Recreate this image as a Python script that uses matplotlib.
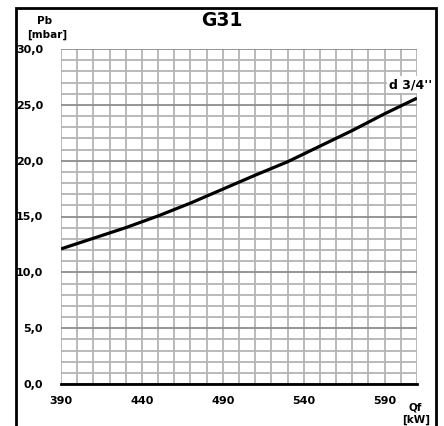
import matplotlib.pyplot as plt
from matplotlib.patches import Rectangle

# portata termica [kW] e perdita di carico [mbar]
qf = [390, 410, 430, 450, 470, 490, 510, 530, 550, 570, 590, 610]
pb = [12.1, 13.05, 14.0, 15.05, 16.2, 17.45, 18.7, 19.9, 21.3, 22.7, 24.2, 25.6]

x_ticks = [390, 440, 490, 540, 590]
x_labels = ['390', '440', '490', '540', '590']
y_ticks = [0, 5, 10, 15, 20, 25, 30]
y_labels = ['0,0', '5,0', '10,0', '15,0', '20,0', '25,0', '30,0']

plt.rcParams['font.family'] = ['DejaVu Sans']
plt.rcParams['font.weight'] = 'bold'

fig = plt.figure(figsize=(4.44, 4.26), dpi=100)
ax = fig.add_axes([61 / 444, 1 - 384 / 426, 356 / 444, 335 / 426])

ax.set_xlim(390, 610)
ax.set_ylim(0, 30)

# griglia fine
for x in range(390, 611, 10):
    ax.axvline(x, color='#b4b4b4', lw=1.3, zorder=1)
for y in range(0, 31):
    c = '#8c8c8c' if y % 5 == 0 else '#b4b4b4'
    ax.axhline(y, color=c, lw=1.3, zorder=1)

ax.plot(qf, pb, color='black', lw=2.3, zorder=3, solid_capstyle='butt')

ax.set_xticks(x_ticks)
ax.set_xticklabels(x_labels)
ax.set_yticks(y_ticks)
ax.set_yticklabels(y_labels)
ax.tick_params(length=0, labelsize=8)
ax.tick_params(axis='x', pad=9)
ax.tick_params(axis='y', pad=13)
for lab in ax.get_xticklabels() + ax.get_yticklabels():
    lab.set_fontweight('bold')

for s in ['top', 'right', 'left']:
    ax.spines[s].set_visible(False)
ax.spines['bottom'].set_color('black')
ax.spines['bottom'].set_linewidth(2)
ax.spines['bottom'].set_zorder(4)

ax.text((432 - 61) / 356, 26.8, "d 3/4''", transform=ax.get_yaxis_transform(),
        fontsize=9, fontweight='bold', ha='right', va='center', zorder=5,
        clip_on=False, bbox=dict(facecolor='white', edgecolor='none', pad=1.5))

# titolo ed etichette assi
fig.text(222 / 444, 1 - 21 / 426, 'G31', fontsize=13.5, fontweight='bold',
         ha='center', va='center')
fig.text(45 / 444, 1 - 21 / 426, 'Pb', fontsize=7.5, fontweight='bold',
         ha='center', va='center')
fig.text(47 / 444, 1 - 35 / 426, '[mbar]', fontsize=7.5, fontweight='bold',
         ha='center', va='center')
fig.text(415 / 444, 1 - 408 / 426, 'Qf', fontsize=7.5, fontweight='bold',
         ha='center', va='center')
fig.text(416 / 444, 1 - 420 / 426, '[kW]', fontsize=7.5, fontweight='bold',
         ha='center', va='center')

# cornice esterna
fig.patches.append(Rectangle((16 / 444, -0.05), 420 / 444, 1 - 8 / 426 + 0.05,
                             transform=fig.transFigure, fill=False,
                             edgecolor='black', lw=2))

fig.savefig('out.png', dpi=100)
